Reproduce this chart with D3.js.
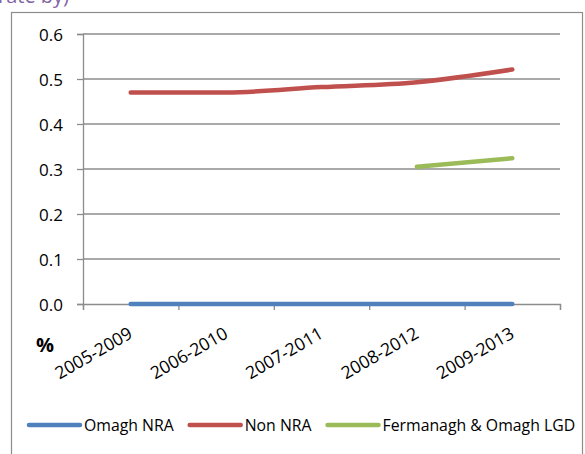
<!DOCTYPE html>
<html>
<head>
<meta charset="utf-8">
<script src="https://cdn.jsdelivr.net/npm/d3@7"></script>
<style>
  body { margin: 0; background: #fff; }
  svg { display: block; font-family: "Open Sans", "Liberation Sans", sans-serif; }
</style>
</head>
<body>
<svg width="585" height="454"></svg>
<script>
var periods = ["2005-2009", "2006-2010", "2007-2011", "2008-2012", "2009-2013"];
var omaghNRA = [0, 0, 0, 0, 0];
var nonNRA = [0.47, 0.47, 0.482, 0.493, 0.521];
var fermanaghOmagh = [null, null, null, 0.305, 0.324];
var yTicks = [0, 0.1, 0.2, 0.3, 0.4, 0.5, 0.6];

var series = [
  {name: "Omagh NRA", values: omaghNRA, color: "#4f81bd"},
  {name: "Non NRA", values: nonNRA, color: "#c0504d"},
  {name: "Fermanagh & Omagh LGD", values: fermanaghOmagh, color: "#9bbb59"}
];

var svg = d3.select("svg"),
    margin = {top: 34, right: 25, bottom: 150, left: 83},
    width = 585 - margin.left - margin.right,
    height = 454 - margin.top - margin.bottom;

// title above the chart frame, only its lower edge shows
svg.append("text")
    .attr("x", -2)
    .attr("y", 3)
    .attr("fill", "#8064a2")
    .style("font-size", "20px")
    .text("rate by)");

// chart frame
svg.append("rect")
    .attr("x", 11.5)
    .attr("y", 12.5)
    .attr("width", 571)
    .attr("height", 470)
    .attr("fill", "#fff")
    .attr("stroke", "#8c8c8c")
    .attr("stroke-width", 1.2);

var g = svg.append("g").attr("transform", "translate(" + margin.left + "," + margin.top + ")");

var x = d3.scaleLinear().domain([0, periods.length]).range([0, width]),
    y = d3.scaleLinear().domain([0, 0.6]).range([height, 0]);

// gridlines
g.append("g")
  .selectAll("line")
  .data(yTicks.slice(1))
  .enter().append("line")
    .attr("x1", 0)
    .attr("x2", width)
    .attr("y1", function(d) { return y(d); })
    .attr("y2", function(d) { return y(d); })
    .attr("stroke", "#8c8c8c")
    .attr("stroke-width", 1.3);

// y axis
var yAxis = g.append("g")
    .call(d3.axisLeft(y).tickValues(yTicks).tickFormat(d3.format(".1f")).tickSize(6).tickPadding(14));
yAxis.select(".domain").attr("stroke", "#8c8c8c").attr("stroke-width", 1.3);
yAxis.selectAll(".tick line").attr("stroke", "#8c8c8c").attr("stroke-width", 1.3);
yAxis.selectAll(".tick text")
    .attr("fill", "#000")
    .attr("dy", "0.36em")
    .style("font-size", "17px")
    .style("font-family", "'Open Sans', sans-serif");

// x axis, ticks between categories
var xAxis = g.append("g")
    .attr("transform", "translate(0," + height + ")")
    .call(d3.axisBottom(x).tickValues(d3.range(periods.length + 1)).tickFormat("").tickSize(6).tickSizeOuter(6));
xAxis.select(".domain").attr("stroke", "#8c8c8c").attr("stroke-width", 1.3);
xAxis.selectAll(".tick line").attr("stroke", "#8c8c8c").attr("stroke-width", 1.3);

g.append("g")
  .selectAll("text")
  .data(periods)
  .enter().append("text")
    .attr("transform", function(d, i) { return "translate(" + (x(i + 0.5) + 3) + "," + (height + 33) + ") rotate(-30)"; })
    .attr("text-anchor", "end")
    .style("font-size", "17.5px")
    .attr("fill", "#000")
    .text(function(d) { return d; });

// % label
svg.append("text")
    .attr("x", 36)
    .attr("y", 352)
    .style("font-size", "20px")
    .style("font-weight", "bold")
    .attr("fill", "#000")
    .text("%");

// lines
var line = d3.line()
    .defined(function(d) { return d != null; })
    .x(function(d, i) { return x(i + 0.5); })
    .y(function(d) { return y(d); })
    .curve(d3.curveMonotoneX);

g.append("g")
  .selectAll("path")
  .data(series)
  .enter().append("path")
    .attr("d", function(d) { return line(d.values); })
    .attr("fill", "none")
    .attr("stroke", function(d) { return d.color; })
    .attr("stroke-width", 4.5)
    .attr("stroke-linecap", "round")
    .attr("stroke-linejoin", "round");

// legend
var legend = svg.append("g").attr("transform", "translate(27,425)");
var lx = 0;
series.forEach(function(s) {
  var item = legend.append("g").attr("transform", "translate(" + lx + ",0)");
  item.append("line")
      .attr("x1", 2).attr("x2", 53)
      .attr("y1", 0).attr("y2", 0)
      .attr("stroke", s.color)
      .attr("stroke-width", 4.5)
      .attr("stroke-linecap", "round");
  var t = item.append("text")
      .attr("x", 57)
      .attr("dy", "0.36em")
      .style("font-size", "15.8px")
      .attr("fill", "#000")
      .text(s.name);
  lx += 57 + t.node().getComputedTextLength() + 14;
});
</script>
</body>
</html>
